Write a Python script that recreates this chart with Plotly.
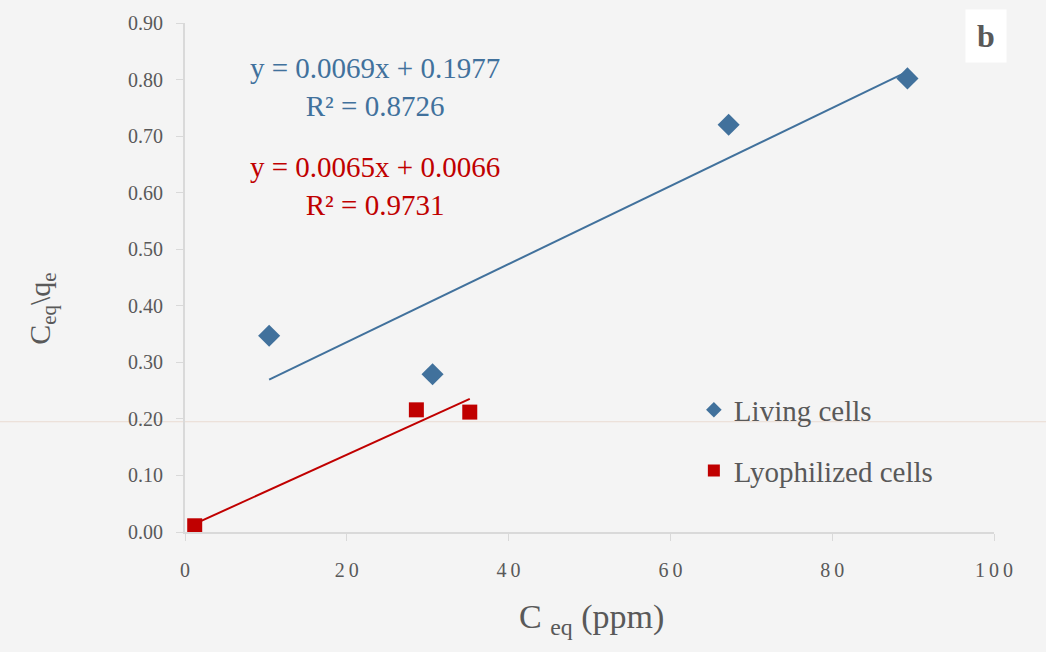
import plotly.graph_objects as go

# Data
living_x = [10.4, 30.6, 67.2, 89.3]
living_y = [0.347, 0.279, 0.720, 0.802]
lyo_x = [1.2, 28.6, 35.2]
lyo_y = [0.011, 0.216, 0.212]

living_fit = {"slope": 0.0069, "intercept": 0.1977, "r2": 0.8726}
lyo_fit = {"slope": 0.0065, "intercept": 0.0066, "r2": 0.9731}

x_ticks = [0, 20, 40, 60, 80, 100]
y_ticks = [0.0, 0.1, 0.2, 0.3, 0.4, 0.5, 0.6, 0.7, 0.8, 0.9]

BLUE = "#41719C"
RED = "#C00000"
GREY = "#595959"
FONT = "Liberation Serif"
BG = "#F4F4F4"


def fit_line(xs, fit):
    x0, x1 = min(xs), max(xs)
    return [x0, x1], [fit["slope"] * x0 + fit["intercept"], fit["slope"] * x1 + fit["intercept"]]


fig = go.Figure()

fx, fy = fit_line(living_x, living_fit)
fig.add_trace(go.Scatter(x=fx, y=fy, mode="lines", line=dict(color=BLUE, width=2), showlegend=False, hoverinfo="skip"))
fx, fy = fit_line(lyo_x, lyo_fit)
fig.add_trace(go.Scatter(x=fx, y=fy, mode="lines", line=dict(color=RED, width=2), showlegend=False, hoverinfo="skip"))

fig.add_trace(go.Scatter(x=living_x, y=living_y, mode="markers", name="Living cells", legendgroup="a",
                         marker=dict(symbol="diamond", size=17, color=BLUE)))
fig.add_trace(go.Scatter(x=lyo_x, y=lyo_y, mode="markers", name="Lyophilized cells", legendgroup="b",
                         marker=dict(symbol="square", size=15, color=RED)))

axis_common = dict(showline=True, linecolor="#D9D9D9", linewidth=2, ticks="outside",
                   tickcolor="#D9D9D9", ticklen=7, tickwidth=1, showgrid=False, zeroline=False,
                   tickfont=dict(family=FONT, size=20, color=GREY))

fig.update_xaxes(range=[0, 100], tickvals=x_ticks, ticklabelstandoff=12,
                 ticktext=["\u2009".join(str(v)) for v in x_ticks], **axis_common)
fig.update_yaxes(range=[0, 0.9], tickvals=y_ticks, ticklabelstandoff=9,
                 ticktext=[f"{v:.2f}" for v in y_ticks], **axis_common)

annotations = [
    dict(x=0.235, y=0.875, xref="paper", yref="paper", showarrow=False, align="center",
         xanchor="center", yanchor="middle",
         text=f"y = {living_fit['slope']}x + {living_fit['intercept']}<br>R² = {living_fit['r2']}",
         font=dict(family=FONT, size=29, color=BLUE)),
    dict(x=0.235, y=0.679, xref="paper", yref="paper", showarrow=False, align="center",
         xanchor="center", yanchor="middle",
         text=f"y = {lyo_fit['slope']}x + {lyo_fit['intercept']}<br>R² = {lyo_fit['r2']}",
         font=dict(family=FONT, size=29, color=RED)),
    dict(x=-0.177, y=0.44, xref="paper", yref="paper", showarrow=False, textangle=-90,
         xanchor="center", yanchor="middle",
         text="C<sub>eq</sub>\\q<sub>e</sub>", font=dict(family=FONT, size=30, color=GREY)),
    dict(x=0.502, y=-0.171, xref="paper", yref="paper", showarrow=False,
         xanchor="center", yanchor="middle",
         text="C <sub>eq</sub> (ppm)", font=dict(family=FONT, size=34, color=GREY)),
    dict(x=0.99, y=0.975, xref="paper", yref="paper", showarrow=False,
         xanchor="center", yanchor="middle",
         text="<b>b</b>", font=dict(family=FONT, size=32, color=GREY),
         bgcolor="white", width=38, height=50),
]

fig.update_layout(
    width=1046, height=652,
    margin=dict(l=185, r=52, t=18, b=120),
    paper_bgcolor=BG, plot_bgcolor=BG,
    font=dict(family=FONT, color=GREY),
    legend=dict(x=0.629, y=0.18, xanchor="left", yanchor="middle", bgcolor="rgba(0,0,0,0)",
                font=dict(family=FONT, size=29, color=GREY), tracegroupgap=20, itemsizing="constant"),
    annotations=annotations,
    shapes=[dict(type="line", xref="paper", yref="y", x0=-0.23, x1=1.07, y0=0.195, y1=0.195,
                 line=dict(color="#EADCD2", width=1), layer="below")],
)

fig.write_html("out.html", config={"displayModeBar": False},
               post_script="document.body.style.margin='0';document.body.style.background='%s';"
                           "document.documentElement.style.overflow='hidden';" % BG)
